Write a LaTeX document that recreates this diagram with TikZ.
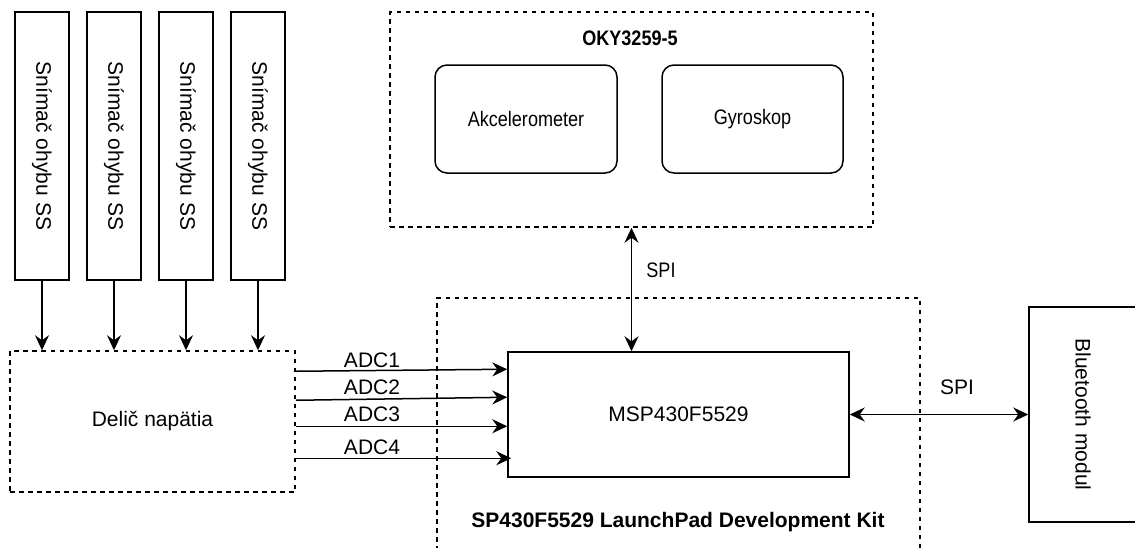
\documentclass[tikz,border=0pt]{standalone}
\usepackage{fontspec}
\setmainfont{Liberation Sans}
\newfontfamily\narrowsans[FakeStretch=0.86]{Liberation Sans}
\usetikzlibrary{arrows.meta,calc}
\begin{document}
\begin{tikzpicture}[x=1pt,y=-1pt,
  line width=1.5pt,
  box/.style={draw, line width=1.5pt, inner sep=0pt, font=\fontsize{21}{25}\selectfont},
  dbox/.style={box, dash pattern=on 4.5pt off 4.5pt},
  rbox/.style={box, rounded corners=12pt, font=\narrowsans\fontsize{21}{25}\selectfont},
  tip/.tip={Stealth[length=15pt,width=14pt,inset=5pt]},
  arr/.style={-tip, line width=1.5pt},
  barr/.style={tip-tip, line width=1.5pt},
  lbl/.style={font=\fontsize{21}{25}\selectfont, inner sep=0pt},
  slbl/.style={font=\narrowsans\fontsize{21}{25}\selectfont, inner sep=0pt},
  blbl/.style={font=\fontsize{21}{25}\selectfont\bfseries, inner sep=0pt},
  sblbl/.style={font=\narrowsans\fontsize{21}{25}\selectfont\bfseries, inner sep=0pt},
]
\useasboundingbox (0,0) rectangle (1135,547);
\clip (0,0) rectangle (1135,547);

% sensors
\node[box, minimum width=54pt, minimum height=268pt, label={[lbl,rotate=-90]center:Snímač ohybu SS}] (s1) at (42,146) {};
\node[box, minimum width=54pt, minimum height=268pt, label={[lbl,rotate=-90]center:Snímač ohybu SS}] (s2) at (114,146) {};
\node[box, minimum width=54pt, minimum height=268pt, label={[lbl,rotate=-90]center:Snímač ohybu SS}] (s3) at (186,146) {};
\node[box, minimum width=54pt, minimum height=268pt, label={[lbl,rotate=-90]center:Snímač ohybu SS}] (s4) at (258,146) {};

% voltage divider
\node[dbox, minimum width=285pt, minimum height=141pt] (d) at (152.5,421.5) {Delič napätia};

% OKY module
\node[dbox, minimum width=483pt, minimum height=215pt] (oky) at (631.5,119.5) {};
\node[sblbl] (okyt) at (630,38) {OKY3259-5};
\node[rbox, minimum width=182pt, minimum height=108pt] (acc) at (526,119) {Akcelerometer};
\node[rbox, minimum width=181pt, minimum height=108pt] (gyr) at (752.5,119) {Gyroskop};

% LaunchPad
\node[dbox, minimum width=483pt, minimum height=262pt] (lp) at (678.5,429) {};
\node[blbl] (lpt) at (678,522) {SP430F5529 LaunchPad Development Kit};
\node[box, minimum width=341pt, minimum height=125pt] (m) at (678.5,414.5) {MSP430F5529};

% Bluetooth
\node[box, minimum width=108pt, minimum height=215pt, label={[lbl,rotate=-90]center:Bluetooth modul}] (bt) at (1083,414.5) {};

% sensor arrows
\foreach \s in {s1,s2,s3,s4}
  \draw[arr] (\s.south) -- (\s.south |- d.north);

% ADC arrows
\draw[arr] ([yshift=-21pt]d.north east) -- ([yshift=-18pt]m.north west);
\draw[arr] ([yshift=-50pt]d.north east) -- ([yshift=-46pt]m.north west);
\draw[arr] ([yshift=-76pt]d.north east) -- ([yshift=-75pt]m.north west);
\draw[arr] ([yshift=-108pt]d.north east) -- ([yshift=-107pt,xshift=4pt]m.north west);
\node[lbl] (a1) at (372,360) {ADC1};
\node[lbl] (a2) at (372,387) {ADC2};
\node[lbl] (a3) at (372,414) {ADC3};
\node[lbl] (a4) at (372,447) {ADC4};

% SPI links
\draw[barr] (oky.south) -- (oky.south |- m.north);
\node[slbl] (spi1) at (661,270) {SPI};
\draw[barr] (m.east) -- (bt.west);
\node[lbl] (spi2) at (957,387) {SPI};
\end{tikzpicture}
\end{document}
